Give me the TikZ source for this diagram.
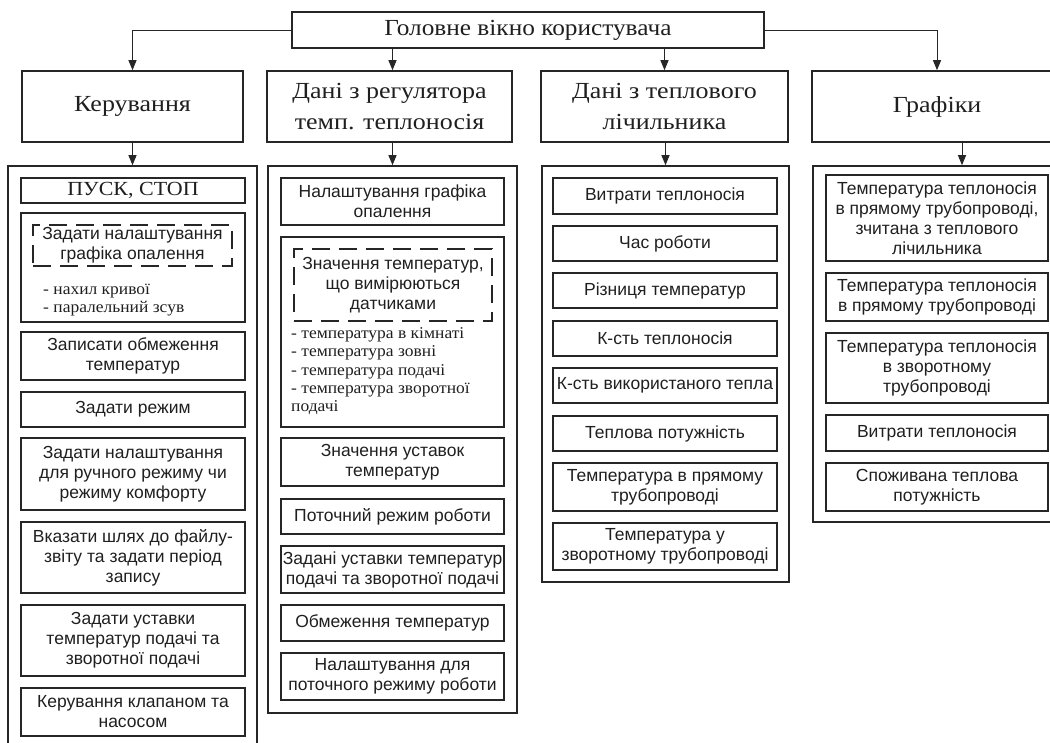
\documentclass[tikz,border=0pt]{standalone}
\usepackage{fontspec}
\setmainfont{Liberation Serif}
\setsansfont{Liberation Sans}
\newfontfamily\headserif[FakeStretch=1.13]{Liberation Serif}
\newfontfamily\titleserif[FakeStretch=1.1]{Liberation Serif}
\newfontfamily\listserif[FakeStretch=1.06]{Liberation Serif}
\usetikzlibrary{arrows.meta}
\newcommand\itemfont{\sffamily\fontsize{17.5}{20}\selectfont}
\newcommand\headfont{\headserif\fontsize{23}{31}\selectfont}
\newcommand\titlefont{\titleserif\fontsize{23}{24}\selectfont}
\newcommand\listfont{\listserif\fontsize{16.5}{18}\selectfont}
\newcommand\bx[7][]{\node[box,#1,minimum width={(#5-#3)*1pt},minimum height={(#6-#4)*1pt}] (#2) at ({(#3+#5)/2},{(#4+#6)/2}) {#7};}
\tikzset{
  box/.style={draw=black!85, line width=1.6pt, inner sep=0pt, align=center, text=black!88, font=\itemfont},
  headbox/.style={font=\headfont},
  titlebox/.style={font=\titlefont},
  serifbox/.style={font=\titleserif\fontsize{20}{22}\selectfont},
  dashbox/.style={line width=1.4pt, dash pattern=on 18pt off 9pt},
  listitem/.style={anchor=west, inner sep=0pt, font=\listfont, text=black!88},
  arr/.style={draw=black!85, line width=1pt, -{Triangle[length=10pt,width=8pt]}}
}
\begin{document}
\begin{tikzpicture}[x=1pt,y=-1pt]
\useasboundingbox (0,0) rectangle (1050,742);
\clip (0,0) rectangle (1050,742);
% title and headers
\bx[titlebox]{top}{292}{12}{764}{48}{Головне вікно користувача}
\bx[headbox]{h1}{22}{71}{243}{142}{Керування}
\bx[headbox]{h2}{267}{71}{512}{142}{Дані з регулятора\\темп. теплоносія}
\bx[headbox]{h3}{541}{71}{788}{142}{Дані з теплового\\лічильника}
\bx[headbox]{h4}{812}{71}{1062}{142}{Графіки}
% outer column boxes
\bx{o1}{8}{166}{257}{780}{}
\bx{o2}{268}{166}{517}{713}{}
\bx{o3}{542}{166}{789}{582}{}
\bx{o4}{813}{166}{1111}{522}{}
% column 1
\bx[serifbox]{p1}{21}{178}{245}{203}{ПУСК, СТОП}
\bx{p2}{21}{213}{245}{322}{}
\bx[dashbox]{p2d}{33}{225}{232}{266}{Задати налаштування\\графіка опалення}
\node[listitem] (p2a) at (43,291) {- нахил кривої};
\node[listitem] (p2b) at (43,309) {- паралельний зсув};
\bx{p3}{21}{332}{245}{380}{Записати обмеження\\температур}
\bx{p4}{21}{392}{245}{427}{Задати режим}
\bx{p5}{21}{438}{245}{510}{Задати налаштування\\для ручного режиму чи\\режиму комфорту}
\bx{p6}{21}{522}{245}{593}{Вказати шлях до файлу-\\звіту та задати період\\запису}
\bx{p7}{21}{605}{245}{676}{Задати уставки\\температур подачі та\\зворотної подачі}
\bx{p8}{21}{688}{245}{736}{Керування клапаном та\\насосом}
% column 2
\bx{q1}{281}{178}{504}{225}{Налаштування графіка\\опалення}
\bx{q2}{281}{237}{504}{427}{}
\bx[dashbox]{q2d}{294}{249}{492}{321}{Значення температур,\\що вимірюються\\датчиками}
\node[listitem] (q2a) at (291,335) {- температура в кімнаті};
\node[listitem] (q2b) at (291,353) {- температура зовні};
\node[listitem] (q2c) at (291,372) {- температура подачі};
\node[listitem] (q2e) at (291,390) {- температура зворотної};
\node[listitem] (q2f) at (291,408) {подачі};
\bx{q3}{281}{438}{504}{486}{Значення уставок\\температур}
\bx{q4}{281}{499}{504}{534}{Поточний режим роботи}
\bx{q5}{281}{546}{504}{593}{Задані уставки температур\\подачі та зворотної подачі}
\bx{q6}{281}{605}{504}{641}{Обмеження температур}
\bx{q7}{281}{653}{504}{700}{Налаштування для\\поточного режиму роботи}
% column 3
\bx{r1}{553}{178}{777}{214}{Витрати теплоносія}
\bx{r2}{553}{226}{777}{261}{Час роботи}
\bx{r3}{553}{273}{777}{308}{Різниця температур}
\bx{r4}{553}{321}{777}{356}{К-сть теплоносія}
\bx{r5}{553}{368}{777}{403}{К-сть використаного тепла}
\bx{r6}{553}{416}{777}{451}{Теплова потужність}
\bx{r7}{553}{463}{777}{511}{Температура в прямому\\трубопроводі}
\bx{r8}{553}{523}{777}{570}{Температура у\\зворотному трубопроводі}
% column 4
\bx{s1}{826}{175}{1048}{261}{Температура теплоносія\\в прямому трубопроводі,\\зчитана з теплового\\лічильника}
\bx{s2}{826}{273}{1048}{321}{Температура теплоносія\\в прямому трубопроводі}
\bx{s3}{826}{333}{1048}{403}{Температура теплоносія\\в зворотному\\трубопроводі}
\bx{s4}{826}{415}{1048}{451}{Витрати теплоносія}
\bx{s5}{826}{463}{1048}{511}{Споживана теплова\\потужність}
% connectors
\draw[arr] (top.west) -| (h1.north);
\draw[arr] (top.south -| o2.north) -- (h2.north -| o2.north);
\draw[arr] (top.south -| h3.north) -- (h3.north);
\draw[arr] (top.east) -| (h4.north);
\draw[arr] (h1.south) -- (o1.north);
\draw[arr] (h2.south -| o2.north) -- (o2.north);
\draw[arr] (h3.south -| o3.north) -- (o3.north);
\draw[arr] (h4.south -| o4.north) -- (o4.north);
\end{tikzpicture}
\end{document}
